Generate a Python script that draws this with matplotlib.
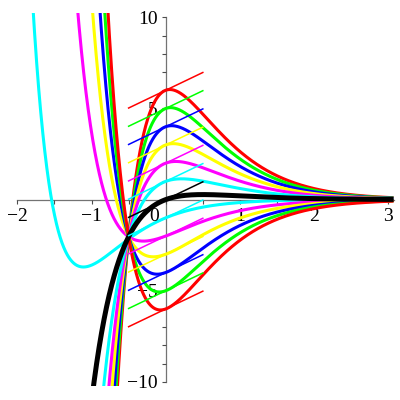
import numpy as np
import matplotlib.pyplot as plt

# family of solution curves y = (a + (k a + s) x) e^(-k x), one per starting value a = y(0)
# a = y(0) read where each curve crosses the y-axis, s = slope of the curve there,
# k = decay rate (pivot point of the family sits near x = -0.5)
Y0 = [6, 5, 4, 3, 2, 1, 0, -1, -2, -3, -4, -5, -6]
CURVE_SLOPE = [1.5, 1.5, 1.5, 1.5, 1.5, 1.5, 1.5, 1.68, 1.5, 1.5, 1.5, 1.5, 1.5]
CURVE_RATE = [2.0, 2.0, 2.0, 2.0, 2.0, 2.0, 2.0, 2.33, 2.0, 2.0, 2.0, 2.0, 2.0]
Y0_COLORS = ["red", "lime", "blue", "yellow", "magenta", "cyan", "black",
             "cyan", "magenta", "yellow", "blue", "lime", "red"]
SEG_SLOPE = 1.95   # slope of the short segments drawn at x = 0
SEG_X = [-0.5, 0.5]

X_TICKS = [-2, -1, 1, 2, 3]
Y_TICKS = [-10, -5, 5, 10]

plt.rcParams["font.family"] = ["Liberation Serif", "DejaVu Serif"]

fig = plt.figure(figsize=(4, 4), dpi=100)
ax = fig.add_axes([0.0433, 0.034, 0.9405, 0.934])

x = np.linspace(-2.0, 3.07, 3000)
seg = np.array(SEG_X)

# colored curves first, black one (a = 0) last so it sits on top
order = [i for i, a in enumerate(Y0) if a != 0] + [Y0.index(0)]
for i in order:
    a, s, k = Y0[i], CURVE_SLOPE[i], CURVE_RATE[i]
    y = (a + (k * a + s) * x) * np.exp(-k * x)
    lw = 3.6 if a == 0 else 2.2
    ax.plot(x, y, color=Y0_COLORS[i], lw=lw, solid_capstyle="butt",
            zorder=3 if a == 0 else 2)

for i, a in enumerate(Y0):
    ax.plot(seg, a + SEG_SLOPE * seg, color=Y0_COLORS[i], lw=1.1, zorder=4)

ax.set_xlim(-2.0, 3.07)
ax.set_ylim(-10.25, 10.25)

# maple-style axes through the origin
for side in ["top", "right"]:
    ax.spines[side].set_visible(False)
ax.spines["left"].set_position(("data", 0))
ax.spines["bottom"].set_position(("data", 0))
ax.spines["left"].set_bounds(-10, 10)
ax.spines["bottom"].set_bounds(-2, 3.07)
for side in ["left", "bottom"]:
    ax.spines[side].set_color("0.45")
    ax.spines[side].set_linewidth(0.9)
    ax.spines[side].set_zorder(1)

ax.set_xticks(X_TICKS)
ax.set_xticklabels([f"\u2212{-t}" if t < 0 else str(t) for t in X_TICKS])
ax.set_xticks(np.arange(-2, 3.01, 0.5), minor=True)
ax.set_yticks(Y_TICKS)
ax.set_yticklabels([f"\u2212{-t}" if t < 0 else str(t) for t in Y_TICKS])
ax.set_yticks(np.arange(-10, 10.01, 1), minor=True)
ax.tick_params(which="both", direction="out", length=3, width=0.8, color="0.3",
               labelsize=14, pad=3)
ax.tick_params(axis="x", which="major", pad=3)

ax.annotate("0", xy=(0, 0), xycoords="data", xytext=(-8, -6),
            textcoords="offset points", ha="center", va="top", fontsize=14)

ax.set_facecolor("none")
fig.savefig("out.png", dpi=100)
